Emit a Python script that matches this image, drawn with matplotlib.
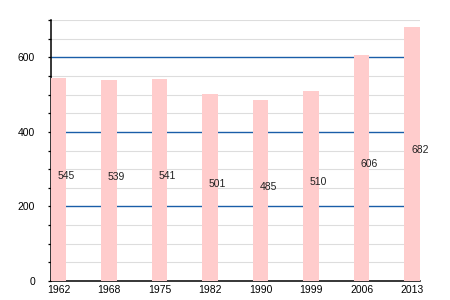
import matplotlib
matplotlib.use("Agg")
import matplotlib.pyplot as plt
import numpy as np

years = ["1962", "1968", "1975", "1982", "1990", "1999", "2006", "2013"]
population = [545, 539, 541, 501, 485, 510, 606, 682]

plt.rcParams['font.family'] = ['Liberation Sans', 'DejaVu Sans']
fig = plt.figure(figsize=(4.5, 3), dpi=100)
ax = fig.add_axes([50.5/450, 1-281/300, 369.5/450, 261/300])

x = np.arange(len(years))
w = 0.316
ax.bar(x, population, width=w, color="#ffcccc", zorder=3)
for xi, v in zip(x, population):
    ax.text(xi - 0.02, v / 2 + 10, str(v), ha="left", va="center", fontsize=7.5, color="#222222", zorder=4)

ax.set_xlim(-w/2, len(years) - 1 + w/2)
ax.set_ylim(0, 700)
ax.set_xticks(x)
ax.set_xticklabels(years, fontsize=7.5)
ax.set_yticks([0, 200, 400, 600])
ax.set_yticks(np.arange(0, 701, 50), minor=True)
ax.tick_params(axis="y", which="major", labelsize=7.5, length=2.5, width=0.9, pad=8.5)
ax.tick_params(axis="y", which="minor", length=2.5, width=0.9)
ax.tick_params(axis="x", length=0, pad=3)

for v in range(50, 701, 50):
    if v % 200 == 0:
        ax.axhline(v, color="#1a5ea8", lw=1.0, zorder=2)
    else:
        ax.axhline(v, color="#dddddd", lw=0.8, zorder=1)

for s in ["top", "right"]:
    ax.spines[s].set_visible(False)
ax.spines["left"].set_linewidth(1.1)
ax.spines["bottom"].set_linewidth(1.1)

fig.savefig("out.png", dpi=100)
